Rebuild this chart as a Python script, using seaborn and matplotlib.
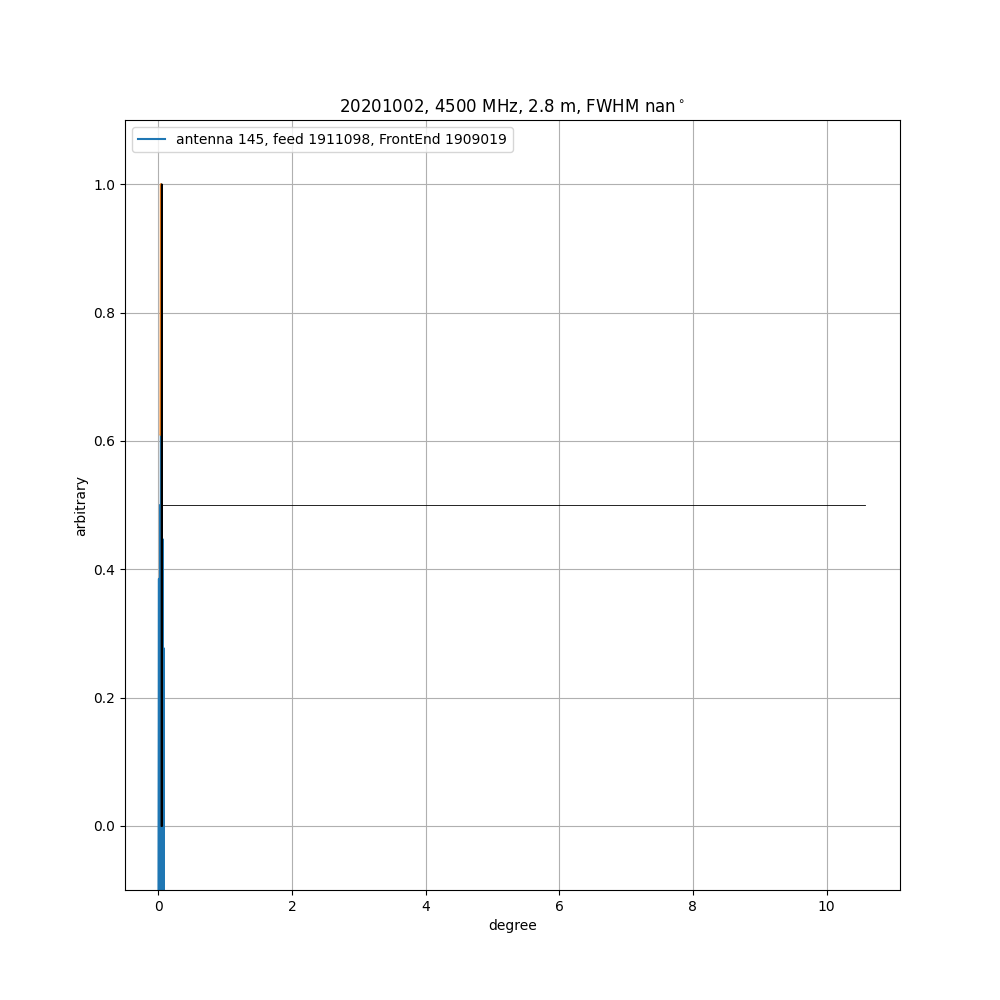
import matplotlib
matplotlib.use("Agg")
import matplotlib.pyplot as plt
import numpy as np
import pandas as pd
import seaborn as sns

# beam cut near boresight (degree, arbitrary)
beam_deg = [0.0, 0.008, 0.012, 0.016, 0.02, 0.026, 0.032, 0.038, 0.044, 0.05,
            0.056, 0.062, 0.066, 0.07, 0.074, 0.078, 0.082, 0.086]
beam_amp = [-0.2, 0.385, -0.2, 0.2, -0.2, 0.5, -0.2, 0.61, -0.2, 0.3,
            -0.2, 0.447, -0.2, 0.2, -0.2, 0.277, -0.2, -0.2]

peak_deg = [0.032, 0.038, 0.044]
peak_amp = [0.61, 1.0, 0.61]

marker_deg = [0.045, 0.05, 0.055]
marker_amp = [0.0, 1.0, 0.0]

half_deg = [0.05, 10.57]
half_amp = [0.5, 0.5]

beam = pd.DataFrame({"degree": beam_deg, "arbitrary": beam_amp})

plt.rcParams["font.family"] = ["DejaVu Sans"]
fig, ax = plt.subplots(figsize=(10, 10), dpi=100)

sns.lineplot(data=beam, x="degree", y="arbitrary", sort=False, ax=ax,
             color="tab:blue", lw=1.5,
             label="antenna 145, feed 1911098, FrontEnd 1909019")
ax.plot(peak_deg, peak_amp, color="tab:orange", lw=1.5)
ax.plot(marker_deg, marker_amp, color="black", lw=1.2)
ax.plot(half_deg, half_amp, color="black", lw=0.6)

ax.set_xlim(-0.5, 11.1)
ax.set_ylim(-0.1, 1.1)
ax.set_xticks([0, 2, 4, 6, 8, 10])
ax.grid(True)
ax.set_xlabel("degree")
ax.set_ylabel("arbitrary")
ax.set_title(r"20201002, 4500 MHz, 2.8 m, FWHM nan$^\circ$")
ax.legend(loc="upper left")

plt.savefig("out.png")
